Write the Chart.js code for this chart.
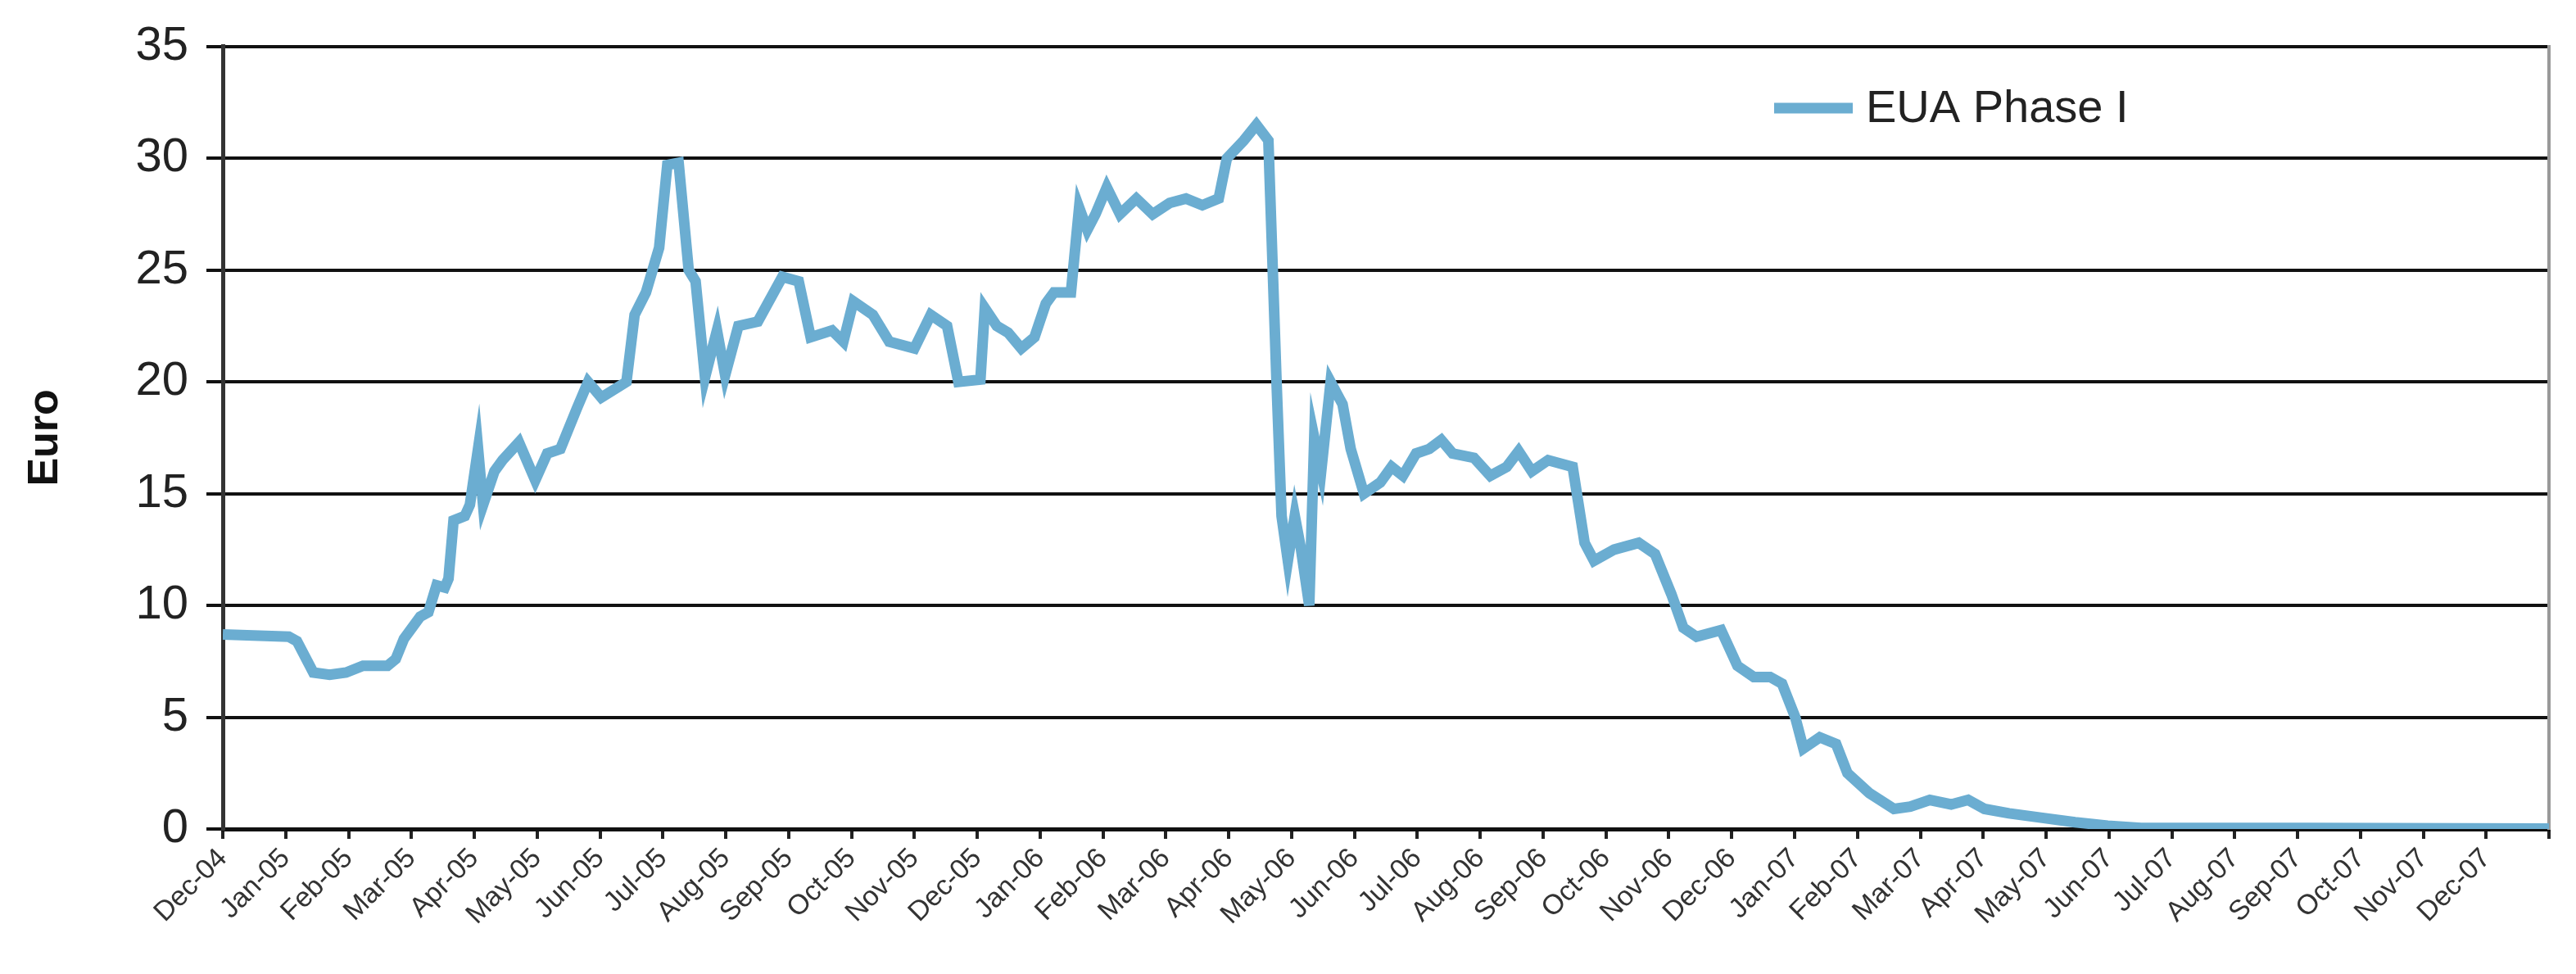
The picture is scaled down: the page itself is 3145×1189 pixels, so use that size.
<!DOCTYPE html>
<html>
<head>
<meta charset="utf-8">
<script src="https://cdn.jsdelivr.net/npm/chart.js@4/dist/chart.umd.min.js"></script>
<style>
  html, body { margin: 0; padding: 0; background: #fff; }
  #wrap { width: 3145px; height: 1189px; }
</style>
</head>
<body>
<div id="wrap"><canvas id="myChart"></canvas></div>
<script>
// month labels, one per tick (Dec-04 = 0)
const monthLabels = ["Dec-04","Jan-05","Feb-05","Mar-05","Apr-05","May-05","Jun-05","Jul-05","Aug-05","Sep-05","Oct-05","Nov-05","Dec-05",
  "Jan-06","Feb-06","Mar-06","Apr-06","May-06","Jun-06","Jul-06","Aug-06","Sep-06","Oct-06","Nov-06","Dec-06",
  "Jan-07","Feb-07","Mar-07","Apr-07","May-07","Jun-07","Jul-07","Aug-07","Sep-07","Oct-07","Nov-07","Dec-07",""];

// time in months since Dec-04, price in Euro
const months = [0,1.05,1.18,1.44,1.70,1.96,2.23,2.62,2.75,2.88,3.14,3.27,3.40,3.53,3.59,3.67,3.85,3.93,4.06,4.14,4.32,4.45,4.71,4.97,
  5.16,5.37,5.63,5.81,6.02,6.42,6.55,6.73,6.94,7.07,7.25,7.41,7.52,7.67,7.86,7.99,8.20,8.51,8.90,9.16,9.35,9.69,9.87,10.03,
  10.34,10.60,11.00,11.26,11.52,11.70,12.05,12.12,12.31,12.49,12.70,12.91,13.09,13.22,13.49,13.62,13.75,13.88,14.06,14.27,
  14.53,14.79,15.06,15.32,15.58,15.84,15.97,16.24,16.44,16.63,16.76,16.84,16.94,17.05,17.15,17.28,17.36,17.47,17.62,17.81,
  17.94,18.15,18.41,18.59,18.77,18.98,19.19,19.38,19.56,19.90,20.16,20.42,20.61,20.82,21.08,21.47,21.66,21.81,22.13,22.52,
  22.78,23.04,23.23,23.44,23.83,24.09,24.35,24.61,24.80,25.01,25.14,25.40,25.66,25.84,26.19,26.58,26.84,27.15,27.49,27.76,
  28.02,28.41,28.94,29.46,29.98,30.51,33.12,37];
const prices = [8.7,8.6,8.4,7.0,6.9,7.0,7.3,7.3,7.6,8.5,9.5,9.7,10.9,10.8,11.2,13.8,14.0,14.5,17.0,14.5,16.0,16.5,17.3,15.6,
  16.8,17.0,18.8,20.0,19.3,20.0,23.0,24.0,26.0,29.7,29.8,25.0,24.5,20.2,22.3,20.3,22.5,22.7,24.7,24.5,22.0,22.3,21.8,23.6,
  23.0,21.8,21.5,23.0,22.5,20.0,20.1,23.3,22.5,22.2,21.5,22.0,23.5,24.0,24.0,27.8,26.8,27.5,28.7,27.5,
  28.2,27.5,28.0,28.2,27.9,28.2,30.0,30.8,31.5,30.8,20.0,14.0,12.0,14.0,12.5,10.0,17.5,16.0,20.0,19.0,
  17.0,15.0,15.5,16.2,15.8,16.8,17.0,17.4,16.8,16.6,15.8,16.2,16.9,16.0,16.5,16.2,12.8,12.0,12.5,12.8,
  12.3,10.5,9.0,8.6,8.9,7.3,6.8,6.8,6.5,5.0,3.6,4.1,3.8,2.5,1.6,0.9,1.0,1.3,1.1,1.3,
  0.9,0.7,0.5,0.3,0.15,0.05,0.05,0.02];
const yTicks = [0,5,10,15,20,25,30,35];

const points = months.map((m, i) => ({x: m, y: prices[i]}));

const legendPlugin = {
    id: "legendBox",
    afterDraw(chart){
        const c = chart.ctx;
        c.save();
        c.strokeStyle = "#6badd1";
        c.lineWidth = 13;
        c.beginPath();
        c.moveTo(2166, 132);
        c.lineTo(2262, 132);
        c.stroke();
        c.fillStyle = "#222";
        c.font = "56px 'Liberation Sans', Arial, sans-serif";
        c.textBaseline = "middle";
        c.fillText("EUA Phase I", 2278, 134);
        c.restore();
    }
};

Chart.defaults.font.family = "'Liberation Sans', Arial, sans-serif";
Chart.defaults.color = "#222";

const ctx = document.getElementById("myChart").getContext("2d");
const myChart = new Chart(ctx, {
    type: "line",
    data: {
        datasets: [{
            label: "EUA Phase I",
            data: points,
            borderColor: "#6badd1",
            borderWidth: 13,
            pointRadius: 0,
            tension: 0,
            fill: false
        }]
    },
    options: {
        responsive: true,
        maintainAspectRatio: false,
        animation: false,
        devicePixelRatio: 1,
        layout: { padding: { top: 26, right: 22, left: 20, bottom: 0 } },
        plugins: { legend: { display: false }, tooltip: { enabled: false } },
        scales: {
            x: {
                type: "linear",
                min: 0,
                max: 37,
                afterFit(s){ s.height = 177; },
                afterBuildTicks(s){ s.ticks = monthLabels.map((_, i) => ({value: i})); },
                ticks: {
                    autoSkip: false,
                    maxRotation: 45,
                    minRotation: 45,
                    font: { size: 34 },
                    color: "#333",
                    padding: 4,
                    callback: (v) => monthLabels[v]
                },
                grid: { drawOnChartArea: false, drawTicks: true, tickLength: 12, color: "#222", lineWidth: 4 },
                border: { color: "#111", width: 5 }
            },
            y: {
                min: 0,
                max: 35,
                afterFit(s){ s.width = 252; },
                afterBuildTicks(s){ s.ticks = yTicks.map(v => ({value: v})); },
                ticks: { font: { size: 58 }, color: "#222", padding: 22 },
                grid: { color: "#111", lineWidth: 4, tickLength: 20 },
                border: { color: "#333", width: 5 },
                title: { display: true, text: "Euro", font: { size: 52, weight: "bold" }, color: "#111", padding: { bottom: 50 } }
            },
            y2: {
                position: "right",
                min: 0,
                max: 35,
                ticks: { display: false },
                grid: { drawOnChartArea: false, drawTicks: false },
                border: { color: "#999", width: 4 }
            }
        }
    },
    plugins: [legendPlugin]
});
</script>
</body>
</html>
